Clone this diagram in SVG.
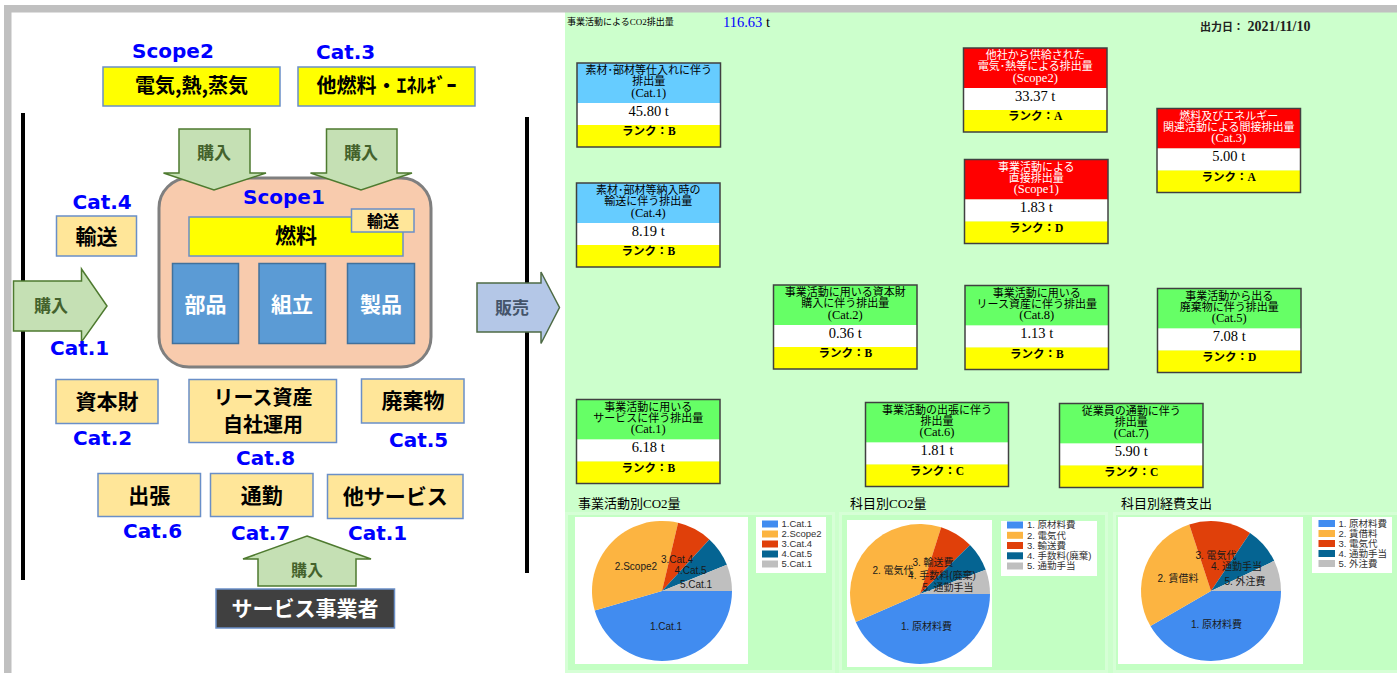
<svg xmlns="http://www.w3.org/2000/svg" width="1397" height="673" viewBox="0 0 1397 673">
<style>
.lb{fill:#FFE699;stroke:#6A8FC8;stroke-width:1.5}
.yb{fill:#FFFF00;stroke:#6A8FC8;stroke-width:1.5}
.bb{fill:#5B9BD5;stroke:#41719C;stroke-width:1.5}
.arr{fill:#C5E0B4;stroke:#4E7A2F;stroke-width:1.5}
.jp{font-family:"Noto Sans CJK JP",sans-serif;font-weight:bold;font-size:21px;text-anchor:middle;fill:#000}
.at{font-family:"Noto Sans CJK JP",sans-serif;font-weight:bold;font-size:17px;text-anchor:middle;fill:#44622C}
.cat{font-family:"DejaVu Sans",sans-serif;font-weight:bold;font-size:20px;fill:#0000FF}
.hb{fill:#66CCFF}.hr{fill:#FF0000}.hg{fill:#66FF66}
.vw{fill:#FFFFFF}.ry{fill:#FFFF00}
.fr{fill:none;stroke:#404040;stroke-width:1.5}
.ht{font-family:"Liberation Serif","Noto Sans CJK JP",serif;font-size:11px;text-anchor:middle;fill:#000}
.h3{font-size:12.5px}
.w{fill:#FFFFFF}
.vt{font-family:"Liberation Serif","Noto Sans CJK JP",serif;font-size:14.5px;text-anchor:middle;fill:#000}
.rt{font-family:"Liberation Serif","Noto Sans CJK JP",serif;font-size:11.5px;font-weight:bold;text-anchor:middle;fill:#000}
.ct{font-family:"Liberation Serif","Noto Sans CJK JP",serif;font-size:13px;fill:#000}
.pl{font-family:"Liberation Sans","Noto Sans CJK JP",sans-serif;font-size:10px;text-anchor:middle;fill:#1A1A1A}
.lg{font-family:"Liberation Sans","Noto Sans CJK JP",sans-serif;font-size:9.5px;fill:#333}
.panel{fill:#C3FFC3;stroke:#D6FFD6;stroke-width:3}
.c1{fill:#418CF0}.c2{fill:#FCB441}.c3{fill:#E0400A}.c4{fill:#056492}.c5{fill:#BFBFBF}
</style>
<!-- backgrounds -->
<rect x="0" y="0" width="1397" height="673" fill="#FFFFFF"/>
<rect x="565" y="12" width="832" height="661" fill="#CCFFCC"/>
<rect x="4" y="5" width="1393" height="7.5" fill="#C0C0C0"/>
<rect x="4" y="5" width="7.5" height="668" fill="#C0C0C0"/>

<!-- LEFT PANEL -->
<g id="boundary-lines">
<rect x="21" y="113" width="4" height="467" fill="#000"/>
<rect x="525" y="117" width="4" height="456" fill="#000"/>
</g>

<g id="scope2">
<text class="cat" x="132" y="58">Scope2</text>
<rect class="yb" x="103" y="67" width="177" height="39"/>
<text class="jp" x="191.5" y="93" style="font-size:20px">電気,熱,蒸気</text>
</g>
<g id="cat3">
<text class="cat" x="316" y="59">Cat.3</text>
<rect class="yb" x="298" y="67" width="177" height="39"/>
<text class="jp" x="386.5" y="93" style="font-size:20px">他燃料・ｴﾈﾙｷﾞｰ</text>
</g>

<g id="scope1">
<rect x="159" y="178" width="272" height="189" rx="30" ry="30" fill="#F8CBAD" stroke="#7F7F7F" stroke-width="3"/>
<text class="cat" x="243" y="204">Scope1</text>
<rect class="yb" x="189" y="217" width="214" height="39"/>
<text class="jp" x="296" y="243">燃料</text>
<rect class="lb" x="351.5" y="209" width="62.5" height="23"/>
<text class="jp" x="383" y="226.5" style="font-size:16px">輸送</text>
<rect class="bb" x="172.5" y="263.5" width="66" height="80"/>
<text class="jp w" x="205.5" y="311.5">部品</text>
<rect class="bb" x="259" y="263.5" width="66.5" height="80"/>
<text class="jp w" x="292" y="311.5">組立</text>
<rect class="bb" x="347.5" y="263.5" width="67" height="80"/>
<text class="jp w" x="381" y="311.5">製品</text>
</g>

<g id="cat4">
<text class="cat" x="72.5" y="209">Cat.4</text>
<rect class="lb" x="56.5" y="216" width="80" height="40"/>
<text class="jp" x="96.5" y="243.5">輸送</text>
</g>

<g id="connectors">
<g id="arrow-buy-scope2">
<polygon class="arr" points="179,129 250,129 250,173 266,173 214,190 163.5,173 179,173"/>
<text class="at" x="214" y="159">購入</text>
</g>
<g id="arrow-buy-cat3">
<polygon class="arr" points="326.5,129 397,129 397,173 412,173 361,190 310.5,173 326.5,173"/>
<text class="at" x="361" y="159">購入</text>
</g>
<g id="arrow-buy-cat1">
<polygon class="arr" points="13.5,281 81.5,281 81.5,269 107,306 81.5,342 81.5,331 13.5,331"/>
<text class="at" x="51" y="311.5">購入</text>
</g>
<g id="arrow-sell">
<polygon points="477,283 541,283 541,272 559.5,307.5 541,343.5 541,332 477,332" fill="#B4C7E7" stroke="#4E6B45" stroke-width="1.5"/>
<text class="at" x="512" y="313.5" style="fill:#44546A">販売</text>
</g>
<g id="arrow-buy-service">
<polygon class="arr" points="307,536 371,559 356,559 356,586 258,586 258,559 243,559"/>
<text class="at" x="307" y="576" style="font-size:16px">購入</text>
</g>
</g>

<g id="cat1-left"><text class="cat" x="50" y="355">Cat.1</text></g>

<g id="cat2">
<rect class="lb" x="56" y="379.5" width="102" height="44"/>
<text class="jp" x="107" y="408.5">資本財</text>
<text class="cat" x="73" y="445">Cat.2</text>
</g>
<g id="cat8">
<rect class="lb" x="189" y="379.5" width="147.5" height="63"/>
<text class="jp" x="263" y="404.5" style="font-size:20px">リース資産</text>
<text class="jp" x="263" y="431.5" style="font-size:20px">自社運用</text>
<text class="cat" x="236" y="465">Cat.8</text>
</g>
<g id="cat5">
<rect class="lb" x="361.5" y="379" width="102.5" height="44"/>
<text class="jp" x="413" y="408">廃棄物</text>
<text class="cat" x="389" y="447">Cat.5</text>
</g>
<g id="cat6">
<rect class="lb" x="98" y="473.5" width="102.5" height="43"/>
<text class="jp" x="149.3" y="502.5">出張</text>
<text class="cat" x="123" y="537.5">Cat.6</text>
</g>
<g id="cat7">
<rect class="lb" x="210.5" y="473.5" width="102.5" height="43"/>
<text class="jp" x="261.8" y="502.5">通勤</text>
<text class="cat" x="231" y="540">Cat.7</text>
</g>
<g id="cat1-service">
<rect class="lb" x="327.5" y="474.5" width="135.5" height="44"/>
<text class="jp" x="395.2" y="504">他サービス</text>
<text class="cat" x="348" y="540">Cat.1</text>
</g>
<g id="service-provider">
<rect x="216" y="589" width="178.5" height="39" fill="#404040" stroke="#6A8FC8" stroke-width="1.5"/>
<text class="jp w" x="305" y="616">サービス事業者</text>
</g>

<!-- RIGHT PANEL -->
<g id="header">
<text x="567" y="25" style="font-family:'Liberation Serif','Noto Sans CJK JP',serif;font-size:9px;fill:#000">事業活動によるCO2排出量</text>
<text x="723" y="27" style="font-family:'Liberation Serif','Noto Sans CJK JP',serif;font-size:14.5px;fill:#0000FF">116.63<tspan style="fill:#000"> t</tspan></text>
<text x="1200" y="31" style="font-family:'Liberation Serif','Noto Sans CJK JP',serif;font-size:11px;font-weight:bold;fill:#222">出力日：<tspan style="font-size:14px"> 2021/11/10</tspan></text>
</g>

<g id="card-cat1-material" transform="translate(577,63)">
<rect class="hb" width="143.5" height="40"/><rect class="vw" y="40" width="143.5" height="22"/><rect class="ry" y="62" width="143.5" height="22"/><rect class="fr" width="143.5" height="84"/>
<text class="ht" x="71.75" y="11">素材･部材等仕入れに伴う</text><text class="ht" x="71.75" y="22">排出量</text><text class="ht h3" x="71.75" y="33.5">(Cat.1)</text>
<text class="vt" x="71.75" y="52.5">45.80 t</text><text class="rt" x="71.75" y="72">ランク：B</text>
</g>
<g id="card-cat4" transform="translate(576.5,183)">
<rect class="hb" width="143.5" height="40"/><rect class="vw" y="40" width="143.5" height="22"/><rect class="ry" y="62" width="143.5" height="22"/><rect class="fr" width="143.5" height="84"/>
<text class="ht" x="71.75" y="11">素材･部材等納入時の</text><text class="ht" x="71.75" y="22">輸送に伴う排出量</text><text class="ht h3" x="71.75" y="33.5">(Cat.4)</text>
<text class="vt" x="71.75" y="52.5">8.19 t</text><text class="rt" x="71.75" y="72">ランク：B</text>
</g>
<g id="card-scope2" transform="translate(963.5,48)">
<rect class="hr" width="143.5" height="40"/><rect class="vw" y="40" width="143.5" height="22"/><rect class="ry" y="62" width="143.5" height="22"/><rect class="fr" width="143.5" height="84"/>
<text class="ht w" x="71.75" y="11">他社から供給された</text><text class="ht w" x="71.75" y="22">電気･熱等による排出量</text><text class="ht h3 w" x="71.75" y="33.5">(Scope2)</text>
<text class="vt" x="71.75" y="52.5">33.37 t</text><text class="rt" x="71.75" y="72">ランク：A</text>
</g>
<g id="card-scope1" transform="translate(964.5,159.5)">
<rect class="hr" width="143.5" height="40"/><rect class="vw" y="40" width="143.5" height="22"/><rect class="ry" y="62" width="143.5" height="22"/><rect class="fr" width="143.5" height="84"/>
<text class="ht w" x="71.75" y="11">事業活動による</text><text class="ht w" x="71.75" y="22">直接排出量</text><text class="ht h3 w" x="71.75" y="33.5">(Scope1)</text>
<text class="vt" x="71.75" y="52.5">1.83 t</text><text class="rt" x="71.75" y="72">ランク：D</text>
</g>
<g id="card-cat3" transform="translate(1157,108.5)">
<rect class="hr" width="143.5" height="40"/><rect class="vw" y="40" width="143.5" height="22"/><rect class="ry" y="62" width="143.5" height="22"/><rect class="fr" width="143.5" height="84"/>
<text class="ht w" x="71.75" y="11">燃料及びエネルギー</text><text class="ht w" x="71.75" y="22">関連活動による間接排出量</text><text class="ht h3 w" x="71.75" y="33.5">(Cat.3)</text>
<text class="vt" x="71.75" y="52.5">5.00 t</text><text class="rt" x="71.75" y="72">ランク：A</text>
</g>
<g id="card-cat2" transform="translate(773.5,285)">
<rect class="hg" width="143.5" height="40"/><rect class="vw" y="40" width="143.5" height="22"/><rect class="ry" y="62" width="143.5" height="22"/><rect class="fr" width="143.5" height="84"/>
<text class="ht" x="71.75" y="11">事業活動に用いる資本財</text><text class="ht" x="71.75" y="22">購入に伴う排出量</text><text class="ht h3" x="71.75" y="33.5">(Cat.2)</text>
<text class="vt" x="71.75" y="52.5">0.36 t</text><text class="rt" x="71.75" y="72">ランク：B</text>
</g>
<g id="card-cat8" transform="translate(965,285.5)">
<rect class="hg" width="143.5" height="40"/><rect class="vw" y="40" width="143.5" height="22"/><rect class="ry" y="62" width="143.5" height="22"/><rect class="fr" width="143.5" height="84"/>
<text class="ht" x="71.75" y="11">事業活動に用いる</text><text class="ht" x="71.75" y="22">リース資産に伴う排出量</text><text class="ht h3" x="71.75" y="33.5">(Cat.8)</text>
<text class="vt" x="71.75" y="52.5">1.13 t</text><text class="rt" x="71.75" y="72">ランク：B</text>
</g>
<g id="card-cat5" transform="translate(1157.5,288.5)">
<rect class="hg" width="143.5" height="40"/><rect class="vw" y="40" width="143.5" height="22"/><rect class="ry" y="62" width="143.5" height="22"/><rect class="fr" width="143.5" height="84"/>
<text class="ht" x="71.75" y="11">事業活動から出る</text><text class="ht" x="71.75" y="22">廃棄物に伴う排出量</text><text class="ht h3" x="71.75" y="33.5">(Cat.5)</text>
<text class="vt" x="71.75" y="52.5">7.08 t</text><text class="rt" x="71.75" y="72">ランク：D</text>
</g>
<g id="card-cat1-service" transform="translate(576.5,399.5)">
<rect class="hg" width="143.5" height="40"/><rect class="vw" y="40" width="143.5" height="22"/><rect class="ry" y="62" width="143.5" height="22"/><rect class="fr" width="143.5" height="84"/>
<text class="ht" x="71.75" y="11">事業活動に用いる</text><text class="ht" x="71.75" y="22">サービスに伴う排出量</text><text class="ht h3" x="71.75" y="33.5">(Cat.1)</text>
<text class="vt" x="71.75" y="52.5">6.18 t</text><text class="rt" x="71.75" y="72">ランク：B</text>
</g>
<g id="card-cat6" transform="translate(865.5,402.5)">
<rect class="hg" width="143" height="40"/><rect class="vw" y="40" width="143" height="22"/><rect class="ry" y="62" width="143" height="22"/><rect class="fr" width="143" height="84"/>
<text class="ht" x="71.5" y="11">事業活動の出張に伴う</text><text class="ht" x="71.5" y="22">排出量</text><text class="ht h3" x="71.5" y="33.5">(Cat.6)</text>
<text class="vt" x="71.5" y="52.5">1.81 t</text><text class="rt" x="71.5" y="72">ランク：C</text>
</g>
<g id="card-cat7" transform="translate(1059.5,403.5)">
<rect class="hg" width="143.5" height="40"/><rect class="vw" y="40" width="143.5" height="22"/><rect class="ry" y="62" width="143.5" height="22"/><rect class="fr" width="143.5" height="84"/>
<text class="ht" x="71.75" y="11">従業員の通勤に伴う</text><text class="ht" x="71.75" y="22">排出量</text><text class="ht h3" x="71.75" y="33.5">(Cat.7)</text>
<text class="vt" x="71.75" y="52.5">5.90 t</text><text class="rt" x="71.75" y="72">ランク：C</text>
</g>

<!-- charts -->
<g id="chart-activity">
<text class="ct" x="578" y="508">事業活動別CO2量</text>
<rect class="panel" x="566.5" y="513.5" width="267" height="158"/>
<rect x="575" y="517" width="173" height="147" fill="#FFFFFF"/>
<path class="c1" d="M662,591 L732,591 A70,70 0 0,1 594.74,610.41 Z"/>
<path class="c2" d="M662,591 L594.74,610.41 A70,70 0 0,1 678.10,522.87 Z"/>
<path class="c3" d="M662,591 L678.10,522.87 A70,70 0 0,1 709.38,539.47 Z"/>
<path class="c4" d="M662,591 L709.38,539.47 A70,70 0 0,1 726.86,564.67 Z"/>
<path class="c5" d="M662,591 L726.86,564.67 A70,70 0 0,1 732,591 Z"/>
<text class="pl" x="666" y="629.5">1.Cat.1</text>
<text class="pl" x="636" y="570">2.Scope2</text>
<text class="pl" x="677" y="562.5">3.Cat.4</text>
<text class="pl" x="690.5" y="574">4.Cat.5</text>
<text class="pl" x="696" y="587.5">5.Cat.1</text>
<rect x="756" y="517" width="70" height="56" fill="#FFFFFF"/>
<rect class="c1" x="762" y="520.5" width="16" height="7"/><text class="lg" x="781.5" y="527.2">1.Cat.1</text>
<rect class="c2" x="762" y="530.5" width="16" height="7"/><text class="lg" x="781.5" y="537.2">2.Scope2</text>
<rect class="c3" x="762" y="540.5" width="16" height="7"/><text class="lg" x="781.5" y="547.2">3.Cat.4</text>
<rect class="c4" x="762" y="550.5" width="16" height="7"/><text class="lg" x="781.5" y="557.2">4.Cat.5</text>
<rect class="c5" x="762" y="560.5" width="16" height="7"/><text class="lg" x="781.5" y="567.2">5.Cat.1</text>
</g>

<g id="chart-account-co2">
<text class="ct" x="850" y="508">科目別CO2量</text>
<rect class="panel" x="840.5" y="513.5" width="266" height="158"/>
<rect x="847" y="520" width="145" height="147" fill="#FFFFFF"/>
<path class="c1" d="M920,594 L990,594 A70,70 0 0,1 855.80,621.91 Z"/>
<path class="c2" d="M920,594 L855.80,621.91 A70,70 0 0,1 941.17,527.28 Z"/>
<path class="c3" d="M920,594 L941.17,527.28 A70,70 0 0,1 970.02,545.02 Z"/>
<path class="c4" d="M920,594 L970.02,545.02 A70,70 0 0,1 985.70,569.83 Z"/>
<path class="c5" d="M920,594 L985.70,569.83 A70,70 0 0,1 990,594 Z"/>
<text class="pl" x="926.5" y="630">1. 原材料費</text>
<text class="pl" x="893" y="573.5">2. 電気代</text>
<text class="pl" x="933" y="565.5">3. 輸送費</text>
<text class="pl" x="942" y="578.5">4. 手数料(廃棄)</text>
<text class="pl" x="948" y="590.5">5. 通勤手当</text>
<rect x="1001" y="521" width="96" height="55" fill="#FFFFFF"/>
<rect class="c1" x="1007" y="521.5" width="16" height="7"/><text class="lg" x="1027" y="528.2">1. 原材料費</text>
<rect class="c2" x="1007" y="531.8" width="16" height="7"/><text class="lg" x="1027" y="538.5">2. 電気代</text>
<rect class="c3" x="1007" y="542" width="16" height="7"/><text class="lg" x="1027" y="548.7">3. 輸送費</text>
<rect class="c4" x="1007" y="552.3" width="16" height="7"/><text class="lg" x="1027" y="559">4. 手数料(廃棄)</text>
<rect class="c5" x="1007" y="562.5" width="16" height="7"/><text class="lg" x="1027" y="569.2">5. 通勤手当</text>
</g>

<g id="chart-account-expense">
<text class="ct" x="1121" y="508">科目別経費支出</text>
<rect class="panel" x="1114.5" y="513.5" width="284" height="158"/>
<rect x="1118" y="517" width="185" height="147" fill="#FFFFFF"/>
<path class="c1" d="M1211,591 L1281,591 A70,70 0 0,1 1150.44,626.11 Z"/>
<path class="c2" d="M1211,591 L1150.44,626.11 A70,70 0 0,1 1189.25,524.46 Z"/>
<path class="c3" d="M1211,591 L1189.25,524.46 A70,70 0 0,1 1250.04,532.90 Z"/>
<path class="c4" d="M1211,591 L1250.04,532.90 A70,70 0 0,1 1274.18,560.87 Z"/>
<path class="c5" d="M1211,591 L1274.18,560.87 A70,70 0 0,1 1281,591 Z"/>
<text class="pl" x="1216.5" y="628">1. 原材料費</text>
<text class="pl" x="1178" y="582">2. 賃借料</text>
<text class="pl" x="1216" y="558.5">3. 電気代</text>
<text class="pl" x="1236.5" y="570">4. 通勤手当</text>
<text class="pl" x="1245" y="585">5. 外注費</text>
<rect x="1312" y="517" width="80" height="56" fill="#FFFFFF"/>
<rect class="c1" x="1318.5" y="520" width="16.5" height="7"/><text class="lg" x="1338.5" y="526.7">1. 原材料費</text>
<rect class="c2" x="1318.5" y="530" width="16.5" height="7"/><text class="lg" x="1338.5" y="536.7">2. 賃借料</text>
<rect class="c3" x="1318.5" y="540" width="16.5" height="7"/><text class="lg" x="1338.5" y="546.7">3. 電気代</text>
<rect class="c4" x="1318.5" y="550" width="16.5" height="7"/><text class="lg" x="1338.5" y="556.7">4. 通勤手当</text>
<rect class="c5" x="1318.5" y="560" width="16.5" height="7"/><text class="lg" x="1338.5" y="566.7">5. 外注費</text>
</g>
</svg>
